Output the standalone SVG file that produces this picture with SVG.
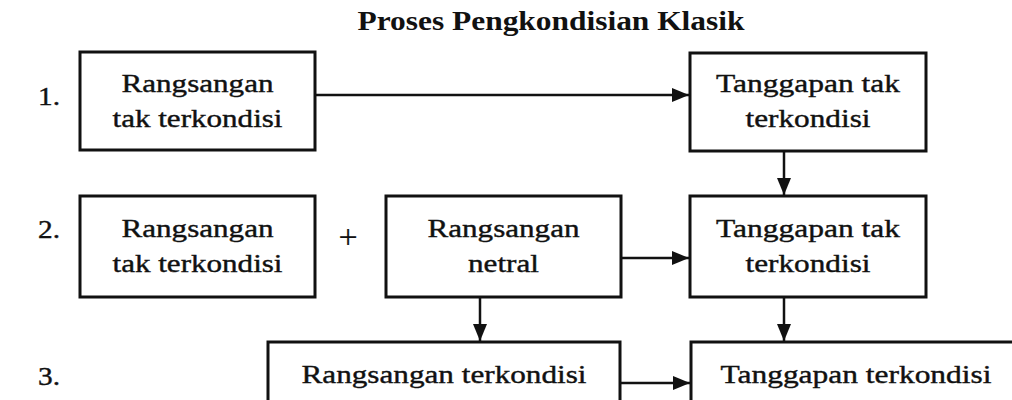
<svg xmlns="http://www.w3.org/2000/svg" width="1012" height="400" viewBox="0 0 1012 400">
<defs>
<style>
.box{fill:none;stroke:#111;stroke-width:3}
.t{font-family:"Liberation Serif","Times New Roman",serif;font-size:26px;fill:#111;stroke:#111;stroke-width:0.4;text-anchor:middle}
.n{font-family:"Liberation Serif","Times New Roman",serif;font-size:26px;fill:#111;stroke:#111;stroke-width:0.4}
.title{font-family:"Liberation Serif","Times New Roman",serif;font-size:27px;font-weight:bold;fill:#111;text-anchor:middle}
.c{fill:none;stroke:#111;stroke-width:2.5}
</style>
<marker id="arr" markerUnits="userSpaceOnUse" markerWidth="17" markerHeight="14" refX="17" refY="7" orient="auto">
<path d="M0,0 L17,7 L0,14 z" fill="#111"/>
</marker>
</defs>
<rect width="1012" height="400" fill="#fff"/>
<text class="title" x="551" y="30" textLength="387" lengthAdjust="spacingAndGlyphs">Proses Pengkondisian Klasik</text>
<g id="labels">
<text class="n" x="38" y="105" textLength="22" lengthAdjust="spacingAndGlyphs">1.</text>
<text class="n" x="38" y="238" textLength="22" lengthAdjust="spacingAndGlyphs">2.</text>
<text class="n" x="38" y="385" textLength="22" lengthAdjust="spacingAndGlyphs">3.</text>
<text class="t" x="348" y="248" style="font-size:34px;stroke-width:0.2">+</text>
</g>
<g id="n1">
<rect class="box" x="80" y="52" width="235" height="98"/>
<text class="t" x="197.5" y="92" textLength="152" lengthAdjust="spacingAndGlyphs">Rangsangan</text>
<text class="t" x="197.5" y="127" textLength="170" lengthAdjust="spacingAndGlyphs">tak terkondisi</text>
</g>
<g id="n2">
<rect class="box" x="690" y="53" width="236" height="98"/>
<text class="t" x="808" y="92" textLength="184" lengthAdjust="spacingAndGlyphs">Tanggapan tak</text>
<text class="t" x="808" y="127" textLength="125" lengthAdjust="spacingAndGlyphs">terkondisi</text>
</g>
<g id="n3">
<rect class="box" x="80" y="196" width="235" height="101"/>
<text class="t" x="197.5" y="237" textLength="152" lengthAdjust="spacingAndGlyphs">Rangsangan</text>
<text class="t" x="197.5" y="272" textLength="170" lengthAdjust="spacingAndGlyphs">tak terkondisi</text>
</g>
<g id="n4">
<rect class="box" x="386" y="196" width="235" height="101"/>
<text class="t" x="503.5" y="237" textLength="152" lengthAdjust="spacingAndGlyphs">Rangsangan</text>
<text class="t" x="503.5" y="272" textLength="71" lengthAdjust="spacingAndGlyphs">netral</text>
</g>
<g id="n5">
<rect class="box" x="690" y="196" width="236" height="101"/>
<text class="t" x="808" y="237" textLength="184" lengthAdjust="spacingAndGlyphs">Tanggapan tak</text>
<text class="t" x="808" y="272" textLength="125" lengthAdjust="spacingAndGlyphs">terkondisi</text>
</g>
<g id="n6">
<rect class="box" x="268" y="342" width="352" height="80"/>
<text class="t" x="444" y="383" textLength="285" lengthAdjust="spacingAndGlyphs">Rangsangan terkondisi</text>
</g>
<g id="n7">
<rect class="box" x="691" y="342" width="330" height="80"/>
<text class="t" x="856" y="383" textLength="271" lengthAdjust="spacingAndGlyphs">Tanggapan terkondisi</text>
</g>
<g id="connectors">
<path class="c" d="M315,95 H689" marker-end="url(#arr)"/>
<path class="c" d="M784,151 V195" marker-end="url(#arr)"/>
<path class="c" d="M621,258 H689" marker-end="url(#arr)"/>
<path class="c" d="M480,297 V341" marker-end="url(#arr)"/>
<path class="c" d="M784,297 V341" marker-end="url(#arr)"/>
<path class="c" d="M620,383 H690" marker-end="url(#arr)"/>
</g>
</svg>
